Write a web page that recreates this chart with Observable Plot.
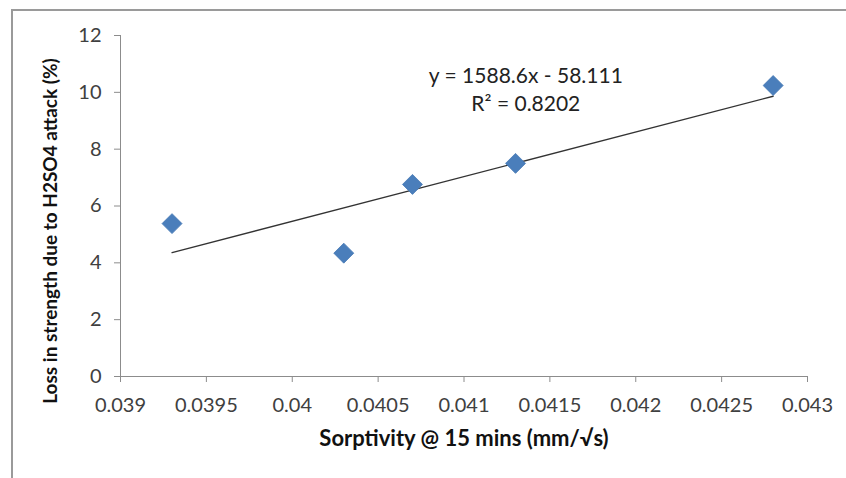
<!DOCTYPE html>
<html>
<head>
<meta charset="utf-8">
<script src="https://cdn.jsdelivr.net/npm/d3@7"></script>
<script src="https://cdn.jsdelivr.net/npm/@observablehq/plot@0.6"></script>
<style>
  html, body { margin: 0; padding: 0; background: #fff; }
  #wrap { position: relative; width: 846px; height: 478px; overflow: hidden; }
  #frame { position: absolute; left: 11px; top: 9px; width: 900px; height: 600px;
           border-top: 2px solid #9a9a9a; border-left: 2px solid #9a9a9a; pointer-events: none; }
  svg { font-family: Lato, "Open Sans", sans-serif; }
</style>
</head>
<body>
<div id="wrap"><div id="frame"></div></div>
<script>
// Data
const sorptivity = [0.0393, 0.0403, 0.0407, 0.0413, 0.0428];
const strengthLoss = [5.38, 4.34, 6.76, 7.50, 10.24];
const xTicks = [0.039, 0.0395, 0.04, 0.0405, 0.041, 0.0415, 0.042, 0.0425, 0.043];
const yTicks = [0, 2, 4, 6, 8, 10, 12];
const equationLines = ["y = 1588.6x - 58.111", "R² = 0.8202"];
const xTitle = "Sorptivity @ 15 mins (mm/√s)";
const yTitle = "Loss in strength due to H2SO4 attack (%)";

const data = sorptivity.map((x, i) => ({x, y: strengthLoss[i]}));
const eqData = equationLines.map((t, i) => ({t, i}));

const chart = Plot.plot({
  width: 846,
  height: 478,
  marginLeft: 120,
  marginRight: 39,
  marginTop: 35,
  marginBottom: 102,
  style: {fontFamily: "Lato, 'Open Sans', sans-serif", background: "#fff", overflow: "visible"},
  x: {domain: [0.039, 0.043], ticks: xTicks, tickFormat: d => String(+d.toFixed(4)), label: null},
  y: {domain: [0, 12], ticks: yTicks, label: null},
  marks: [
    Plot.axisX({ticks: xTicks, tickFormat: d => String(+d.toFixed(4)), tickSize: 6, tickPadding: 15,
      stroke: "#8c8c8c", fill: "#404040", fontSize: 20, label: null}),
    Plot.axisY({ticks: yTicks, tickSize: 6, tickPadding: 13, stroke: "#8c8c8c", fill: "#404040",
      fontSize: 20, label: null}),
    Plot.ruleY([0], {stroke: "#8c8c8c"}),
    Plot.ruleX([0.039], {stroke: "#8c8c8c"}),
    Plot.linearRegressionY(data, {x: "x", y: "y", ci: 0, stroke: "#333", strokeWidth: 1.3}),
    Plot.dot(data, {x: "x", y: "y", symbol: "diamond2", r: 9, fill: "#4a7ebb", stroke: "#4376b3", strokeWidth: 0.8}),
    Plot.text(eqData, {x: () => 0.04136, y: d => 10.55 - d.i * 0.96, text: "t", fontSize: 21,
      fill: "#222", textAnchor: "middle"}),
    Plot.text([xTitle], {frameAnchor: "bottom", dy: 69, text: d => d, fontSize: 22, fontWeight: "bold",
      fill: "#111", textAnchor: "middle"}),
    Plot.text([yTitle], {frameAnchor: "left", dx: -70, dy: 25, rotate: -90, text: d => d, fontSize: 19,
      fontWeight: "bold", fill: "#111", textAnchor: "middle"})
  ]
});
document.getElementById("wrap").prepend(chart);
</script>
</body>
</html>
